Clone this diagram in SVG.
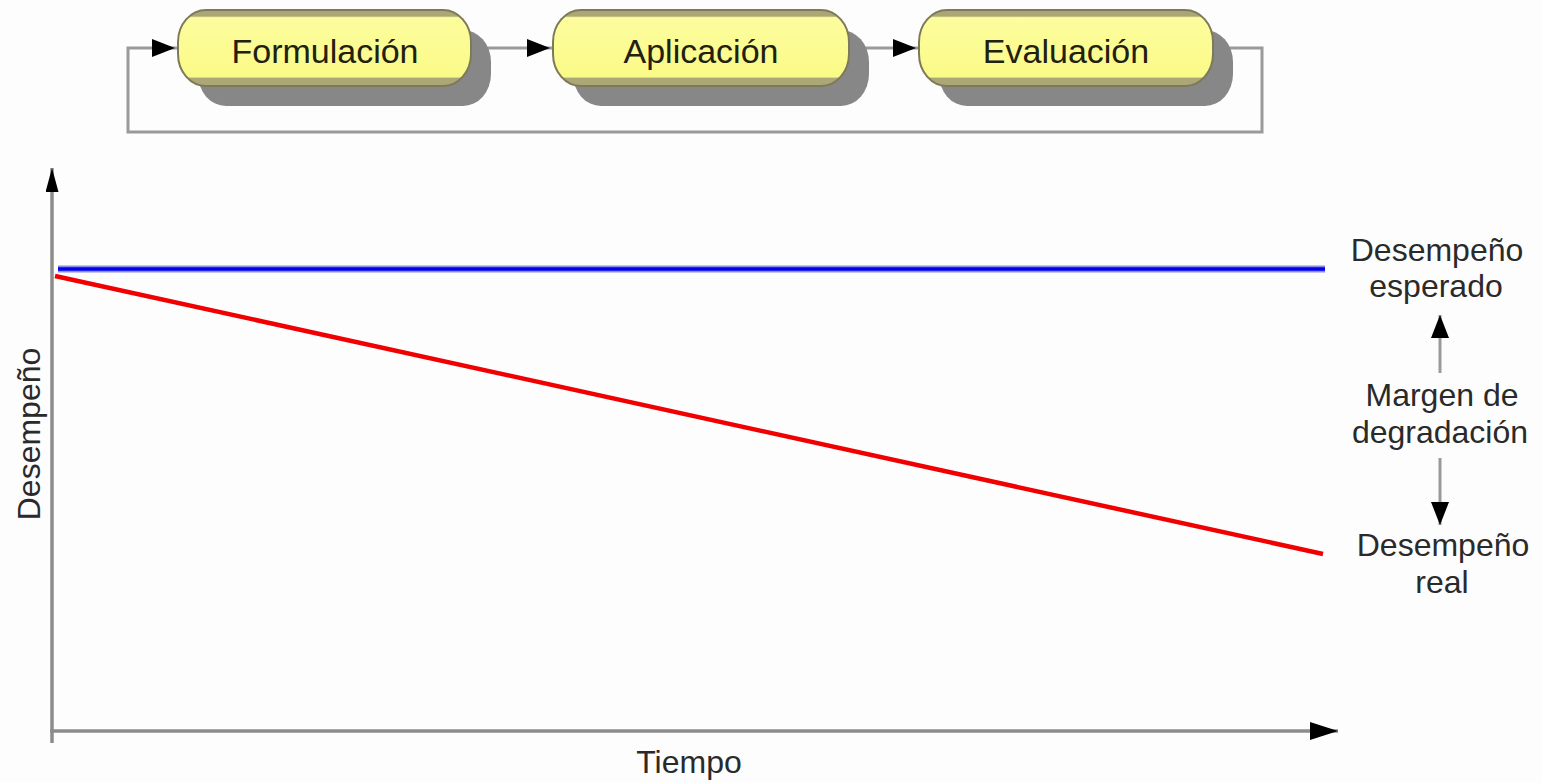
<svg xmlns="http://www.w3.org/2000/svg" width="1542" height="783" viewBox="0 0 1542 783">
  <defs>
    <style>
      .lbl { font-family: "Liberation Sans", Arial, sans-serif; font-size: 32px; fill: #2a2a2a; text-anchor: middle; }
      .ntx { font-family: "Liberation Sans", Arial, sans-serif; font-size: 34px; fill: #22200f; text-anchor: middle; }
      .conn { fill: none; stroke: #9a9a9a; stroke-width: 3; }
      .axis { fill: none; stroke: #8c8c8c; stroke-width: 3.5; }
      .shadow { fill: #878787; }
      .pill { fill: url(#pillGrad); stroke: #7d7a58; stroke-width: 2; }
    </style>
    <linearGradient id="pillGrad" x1="0" y1="0" x2="0" y2="1">
      <stop offset="0" stop-color="#aba676"/>
      <stop offset="0.08" stop-color="#aba676"/>
      <stop offset="0.1" stop-color="#fdfd9e"/>
      <stop offset="0.88" stop-color="#fafa88"/>
      <stop offset="0.9" stop-color="#aca777"/>
      <stop offset="1" stop-color="#aca777"/>
    </linearGradient>
    <marker id="ah" markerUnits="userSpaceOnUse" markerWidth="30" markerHeight="20" refX="26" refY="9" orient="auto">
      <path d="M0,0 L23,9 L0,18 z" fill="#000"/>
    </marker>
    <marker id="ahm" markerUnits="userSpaceOnUse" markerWidth="24" markerHeight="20" refX="23" refY="9" orient="auto">
      <path d="M0,0 L23,9 L0,18 z" fill="#000"/>
    </marker>
    <marker id="ahy" markerUnits="userSpaceOnUse" markerWidth="26" markerHeight="14" refX="24" refY="6.5" orient="auto">
      <path d="M0,0 L24,6.5 L0,13 z" fill="#000"/>
    </marker>
    <marker id="ahx" markerUnits="userSpaceOnUse" markerWidth="30" markerHeight="20" refX="28" refY="9" orient="auto">
      <path d="M0,0 L28,9 L0,18 z" fill="#000"/>
    </marker>
  </defs>

  <rect x="0" y="0" width="1542" height="783" fill="#fdfdfd"/>

  <g id="connectors">
    <path class="conn" d="M471,48 L553,48" marker-end="url(#ah)"/>
    <path class="conn" d="M849,48 L919,48" marker-end="url(#ah)"/>
    <path class="conn" d="M1213,48 L1262,48 L1262,132 L128,132 L128,48 L178,48" marker-end="url(#ah)"/>
  </g>

  <g id="node-formulacion">
    <rect class="shadow" x="198" y="30" width="293" height="76" rx="28" ry="32"/>
    <rect class="pill" x="178" y="10" width="293" height="76" rx="28" ry="32"/>
    <text class="ntx" x="325" y="63">Formulación</text>
  </g>
  <g id="node-aplicacion">
    <rect class="shadow" x="573" y="30" width="296" height="76" rx="28" ry="32"/>
    <rect class="pill" x="553" y="10" width="296" height="76" rx="28" ry="32"/>
    <text class="ntx" x="701" y="63">Aplicación</text>
  </g>
  <g id="node-evaluacion">
    <rect class="shadow" x="939" y="30" width="294" height="76" rx="28" ry="32"/>
    <rect class="pill" x="919" y="10" width="294" height="76" rx="28" ry="32"/>
    <text class="ntx" x="1066" y="63">Evaluación</text>
  </g>

  <g id="chart">
    <path class="axis" d="M52,743 L52,168" marker-end="url(#ahy)"/>
    <path class="axis" d="M50,731 L1338,731" stroke="#aaaaaa" marker-end="url(#ahx)"/>
    <line x1="58" y1="269" x2="1325" y2="269" stroke="#8c8ce0" stroke-width="7"/>
    <line x1="58" y1="269" x2="1325" y2="269" stroke="#0000ee" stroke-width="3.5"/>
    <line x1="55" y1="276" x2="1323" y2="554" stroke="#f00000" stroke-width="4.5"/>
    <path class="conn" d="M1440,373 L1440,315" marker-end="url(#ahm)"/>
    <path class="conn" d="M1440,458 L1440,525" marker-end="url(#ahm)"/>
    <text class="lbl" transform="translate(40,434) rotate(-90)" x="0" y="0">Desempeño</text>
    <text class="lbl" x="689" y="773">Tiempo</text>
    <text class="lbl" x="1437" y="261">Desempeño</text>
    <text class="lbl" x="1436" y="297">esperado</text>
    <text class="lbl" x="1442" y="406">Margen de</text>
    <text class="lbl" x="1440" y="443">degradación</text>
    <text class="lbl" x="1443" y="556">Desempeño</text>
    <text class="lbl" x="1442" y="593">real</text>
  </g>
</svg>
